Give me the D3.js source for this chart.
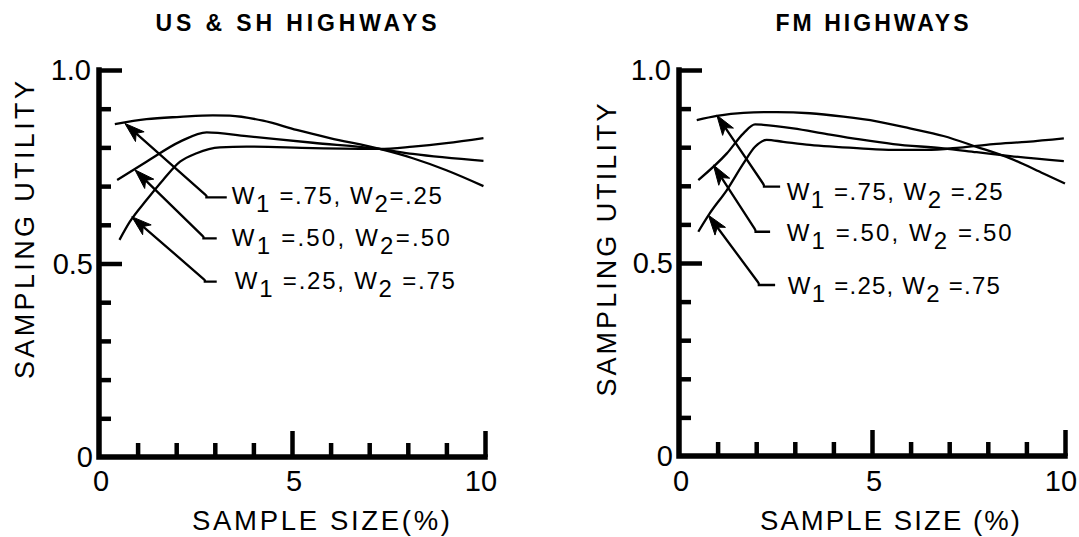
<!DOCTYPE html>
<html><head><meta charset="utf-8">
<script src="https://cdn.jsdelivr.net/npm/d3@7"></script>
<style>
html,body{margin:0;padding:0;background:#fff;}
svg{display:block;}
text{font-family:"Liberation Sans",Arial,sans-serif;fill:#000;}
</style></head><body>
<svg id="chart" width="1079" height="537"></svg>
<script>
// ---------- data ----------
const panelTitles = ["US & SH HIGHWAYS", "FM HIGHWAYS"];
const xAxisTitles = ["SAMPLE SIZE(%)", "SAMPLE SIZE (%)"];
const yAxisTitle = "SAMPLING UTILITY";
const xTickLabels = [0, 5, 10];
const yTickLabels = [0, 0.5, 1.0];
const xMinorTicks = [1, 2, 3, 4, 6, 7, 8, 9];
const xMajorTicks = [5, 10];
const yMinorTicks = [0.1, 0.2, 0.3, 0.4, 0.6, 0.7, 0.8, 0.9];
const yMajorTicks = [0.5, 1.0];

// US & SH highways
const usW75x = [0.41, 1.23, 2.1, 2.95, 3.39, 4.25, 5.12, 5.98, 7.27, 8.13, 9.0, 9.96];
const usW75y = [0.860, 0.873, 0.879, 0.883, 0.882, 0.869, 0.845, 0.824, 0.796, 0.772, 0.741, 0.700];
const usW50x = [0.47, 1.23, 2.1, 2.79, 3.82, 5.54, 7.27, 8.13, 9.96];
const usW50y = [0.716, 0.763, 0.815, 0.839, 0.829, 0.812, 0.796, 0.783, 0.765];
const usW25x = [0.53, 0.80, 1.23, 1.66, 2.1, 2.53, 3.13, 3.82, 5.54, 7.27, 8.13, 9.0, 9.96];
const usW25y = [0.561, 0.608, 0.664, 0.716, 0.763, 0.785, 0.800, 0.802, 0.798, 0.796, 0.802, 0.811, 0.824];

// FM highways
const fmW75x = [0.46, 0.98, 1.67, 2.53, 3.39, 4.26, 5.12, 5.98, 6.85, 7.71, 8.58, 9.44, 10.0];
const fmW75y = [0.870, 0.881, 0.889, 0.891, 0.888, 0.879, 0.867, 0.849, 0.829, 0.801, 0.771, 0.732, 0.706];
const fmW50x = [0.50, 1.24, 1.67, 1.97, 2.18, 2.96, 3.83, 4.69, 5.55, 6.85, 7.71, 8.58, 9.97];
const fmW50y = [0.715, 0.784, 0.836, 0.859, 0.858, 0.849, 0.834, 0.820, 0.808, 0.797, 0.787, 0.777, 0.764];
const fmW25x = [0.50, 0.80, 1.24, 1.67, 1.97, 2.27, 2.70, 3.39, 4.69, 5.55, 6.41, 7.28, 8.14, 9.0, 9.97];
const fmW25y = [0.581, 0.629, 0.689, 0.758, 0.801, 0.819, 0.814, 0.806, 0.797, 0.793, 0.793, 0.799, 0.808, 0.814, 0.823];

// series labels: [main, sub, mid, sub, end]
const usLabels = [["W","1"," =.75, W","2","=.25"], ["W","1"," =.50, W","2","=.50"], ["W","1"," =.25, W","2"," =.75"]];
const fmLabels = [["W","1"," =.75, W","2"," =.25"], ["W","1"," =.50, W","2"," =.50"], ["W","1"," =.25, W","2"," =.75"]];

// annotation arrows in data units: tip, elbow, end; label anchor
const usArrowTips   = [[0.67, 0.862], [0.93, 0.742], [0.85, 0.621]];
const usArrowElbows = [[2.83, 0.671], [2.75, 0.565], [2.79, 0.453]];
const usArrowEnds   = [[3.31, 0.671], [3.05, 0.565], [3.05, 0.453]];
const usLabelAt     = [[3.44, 0.654], [3.44, 0.545], [3.52, 0.434]];
const fmArrowTips   = [[0.98, 0.883], [0.89, 0.754], [0.76, 0.624]];
const fmArrowElbows = [[2.23, 0.698], [2.01, 0.581], [2.10, 0.443]];
const fmArrowEnds   = [[2.62, 0.698], [2.36, 0.581], [2.49, 0.443]];
const fmLabelAt     = [[2.79, 0.663], [2.79, 0.557], [2.82, 0.420]];

// ---------- layout ----------
const panels = [
  { x0: 99, x1: 485, y0: 457, y1: 70, title: panelTitles[0], titleX: 296, titleW: 281,
    ylabX: 34, ylabY: 230, ylabW: 298, xlabX: 321, xlabW: 258, xTitle: xAxisTitles[0],
    series: [[usW75x, usW75y], [usW50x, usW50y], [usW25x, usW25y]],
    labels: usLabels, tips: usArrowTips, elbows: usArrowElbows, ends: usArrowEnds, labelAt: usLabelAt,
    labelW: [210, 218, 220] },
  { x0: 679, x1: 1065, y0: 456, y1: 70, title: panelTitles[1], titleX: 872, titleW: 193,
    ylabX: 616, ylabY: 250, ylabW: 293, xlabX: 890, xlabW: 260, xTitle: xAxisTitles[1],
    series: [[fmW75x, fmW75y], [fmW50x, fmW50y], [fmW25x, fmW25y]],
    labels: fmLabels, tips: fmArrowTips, elbows: fmArrowElbows, ends: fmArrowEnds, labelAt: fmLabelAt,
    labelW: [216, 225, 212] }
];

const svg = d3.select("#chart");
svg.append("rect").attr("width", 1079).attr("height", 537).attr("fill", "#fff");

panels.forEach(p => {
  const x = d3.scaleLinear().domain([0, 10]).range([p.x0, p.x1]);
  const y = d3.scaleLinear().domain([0, 1]).range([p.y0, p.y1]);
  const g = svg.append("g");

  // title
  g.append("text").attr("x", p.titleX).attr("y", 31).attr("text-anchor", "middle")
    .attr("font-size", 23).attr("font-weight", "bold")
    .attr("textLength", p.titleW).attr("lengthAdjust", "spacing").text(p.title);

  // y ticks (inward)
  const yMinor = d3.axisRight(y).tickValues(yMinorTicks).tickSize(12).tickFormat("");
  const yMajor = d3.axisRight(y).tickValues(yMajorTicks).tickSize(23).tickFormat("");
  [yMinor, yMajor].forEach(ax => {
    const a = g.append("g").attr("transform", `translate(${x(0)},0)`).call(ax);
    a.select(".domain").remove();
    a.selectAll("line").attr("stroke", "#000").attr("stroke-width", 4.5);
  });
  // x ticks (upward)
  const xMinor = d3.axisTop(x).tickValues(xMinorTicks).tickSize(14).tickFormat("");
  const xMajor = d3.axisTop(x).tickValues(xMajorTicks).tickSize(26).tickFormat("");
  [xMinor, xMajor].forEach(ax => {
    const a = g.append("g").attr("transform", `translate(0,${y(0)})`).call(ax);
    a.select(".domain").remove();
    a.selectAll("line").attr("stroke", "#000").attr("stroke-width", 4.5);
  });
  // axis lines
  g.append("path")
    .attr("d", `M${x(0)},${y(1)}V${y(0)}H${x(10)}`)
    .attr("fill", "none").attr("stroke", "#000").attr("stroke-width", 5.5)
    .attr("stroke-linejoin", "miter").attr("stroke-linecap", "square");

  // tick labels
  g.selectAll(".xl").data(xTickLabels).enter().append("text")
    .attr("x", d => x(d) + (d === 10 ? -4 : 2)).attr("y", 491).attr("text-anchor", "middle")
    .attr("font-size", 29).text(d => d);
  g.selectAll(".yl").data(yTickLabels).enter().append("text")
    .attr("x", d => x(0) - (d === 1 ? 8 : 6)).attr("y", d => y(d) + 10).attr("text-anchor", "end")
    .attr("font-size", 29).text(d => d === 0 ? "0" : d3.format(".1f")(d));

  // axis titles
  g.append("text").attr("transform", `translate(${p.ylabX},${p.ylabY}) rotate(-90)`)
    .attr("text-anchor", "middle").attr("font-size", 27)
    .attr("textLength", p.ylabW).attr("lengthAdjust", "spacing").text(yAxisTitle);
  g.append("text").attr("x", p.xlabX).attr("y", 530).attr("text-anchor", "middle")
    .attr("font-size", 27.5).attr("textLength", p.xlabW).attr("lengthAdjust", "spacing").text(p.xTitle);

  // curves
  const line = d3.line().x(d => x(d[0])).y(d => y(d[1])).curve(d3.curveMonotoneX);
  p.series.forEach(([xs, ys]) => {
    g.append("path").datum(xs.map((v, i) => [v, ys[i]]))
      .attr("d", line).attr("fill", "none").attr("stroke", "#000").attr("stroke-width", 2.3)
      .attr("stroke-linejoin", "round");
  });

  // arrows
  p.tips.forEach((t, i) => {
    const tp = [x(t[0]), y(t[1])], el = [x(p.elbows[i][0]), y(p.elbows[i][1])], en = [x(p.ends[i][0]), y(p.ends[i][1])];
    const dx = tp[0] - el[0], dy = tp[1] - el[1], len = Math.hypot(dx, dy);
    const ux = dx / len, uy = dy / len, nx = -uy, ny = ux;
    const L = 20, W = 6.5, N = 5;
    g.append("path").attr("d", `M${en[0]},${en[1]}L${el[0] + 4 * ux},${el[1]}Q${el[0]},${el[1]} ${el[0] + 4*ux},${el[1] + 4*uy}L${tp[0] - (L - N) * ux},${tp[1] - (L - N) * uy}`)
      .attr("fill", "none").attr("stroke", "#000").attr("stroke-width", 2.3);
    g.append("path").attr("d", `M${tp[0]},${tp[1]}L${tp[0] - L * ux + W * nx},${tp[1] - L * uy + W * ny}L${tp[0] - (L - N) * ux},${tp[1] - (L - N) * uy}L${tp[0] - L * ux - W * nx},${tp[1] - L * uy - W * ny}Z`)
      .attr("fill", "#000").attr("stroke", "#000").attr("stroke-width", 1).attr("stroke-linejoin", "round");
  });

  // labels
  p.labels.forEach((parts, i) => {
    const t = g.append("text").attr("x", x(p.labelAt[i][0])).attr("y", y(p.labelAt[i][1]))
      .attr("font-size", 24).attr("textLength", p.labelW[i]).attr("lengthAdjust", "spacing");
    t.append("tspan").text(parts[0]);
    t.append("tspan").attr("dy", 8).text(parts[1]);
    t.append("tspan").attr("dy", -8).text(parts[2]);
    t.append("tspan").attr("dy", 8).text(parts[3]);
    t.append("tspan").attr("dy", -8).text(parts[4]);
  });
});
</script>
</body></html>
